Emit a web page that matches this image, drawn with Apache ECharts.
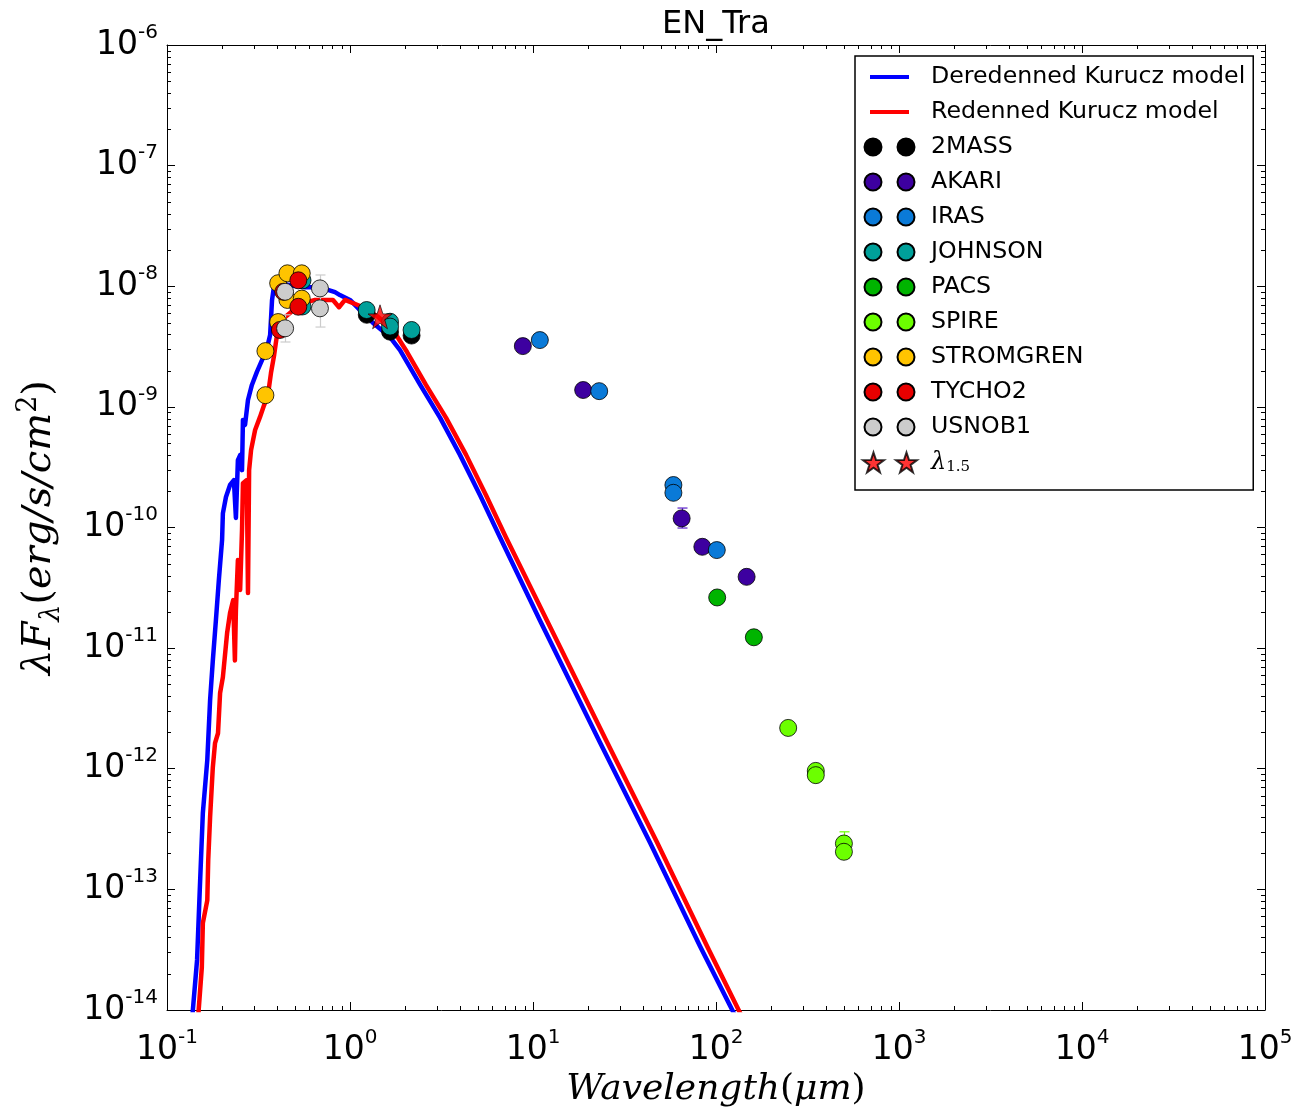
<!DOCTYPE html>
<html><head><meta charset="utf-8">
<script src="https://cdn.jsdelivr.net/npm/echarts@6/dist/echarts.min.js"></script>
<style>html,body{margin:0;padding:0;background:#fff}#c{width:1307px;height:1108px}</style>
</head><body><div id="c"></div>
<script>
// ---- tick definitions ----
const X_TICKS = [0.1, 1, 10, 100, 1000, 10000, 100000];
const Y_TICKS = [1e-14, 1e-13, 1e-12, 1e-11, 1e-10, 1e-9, 1e-8, 1e-7, 1e-6];
const MINOR_STEPS = [2, 3, 4, 5, 6, 7, 8, 9];

// ---- model curves [wavelength um, lambda F_lambda] ----
const DEREDDENED = [
  [0.137, 8.3e-15], [0.146, 2.6e-14], [0.151, 9.8e-14], [0.157, 4.3e-13], [0.166, 1.18e-12],
  [0.172, 3.7e-12], [0.178, 7.9e-12], [0.185, 1.7e-11], [0.192, 3.66e-11], [0.200, 7.9e-11],
  [0.202, 1.31e-10], [0.210, 1.79e-10], [0.221, 2.25e-10], [0.232, 2.47e-10], [0.238, 1.2e-10],
  [0.244, 3.62e-10], [0.251, 3.98e-10], [0.257, 2.99e-10], [0.260, 7.8e-10], [0.267, 7.1e-10],
  [0.277, 1.14e-9], [0.291, 1.52e-9], [0.310, 1.95e-9], [0.331, 2.45e-9], [0.352, 3.07e-9],
  [0.366, 3.94e-9], [0.375, 7.7e-9], [0.385, 1.02e-8], [0.414, 1.06e-8], [0.470, 1.02e-8],
  [0.568, 9.8e-9], [0.686, 9.8e-9], [0.828, 8.95e-9], [0.881, 8.45e-9], [1.0, 7.7e-9],
  [1.135, 6.35e-9], [1.337, 4.96e-9], [1.655, 3.79e-9], [1.876, 2.96e-9], [2.42, 1.52e-9],
  [3.11, 8.1e-10], [3.99, 4.0e-10], [5.13, 1.86e-10], [6.6, 8.3e-11], [10.9, 1.7e-11],
  [23.2, 1.66e-12], [43.5, 2.46e-13], [81.8, 3.38e-14], [135, 7.5e-15]
];
const REDDENED = [
  [0.1476, 8.3e-15], [0.155, 2.26e-14], [0.157, 5.25e-14], [0.166, 8.1e-14], [0.168, 1.75e-13],
  [0.172, 3.97e-13], [0.178, 1.03e-12], [0.183, 1.63e-12], [0.190, 1.97e-12], [0.195, 4.24e-12],
  [0.202, 5.75e-12], [0.213, 1.33e-11], [0.221, 1.95e-11], [0.230, 2.5e-11], [0.235, 7.9e-12],
  [0.238, 2.07e-11], [0.244, 5.37e-11], [0.251, 3.03e-11], [0.257, 9.5e-11], [0.260, 2.33e-10],
  [0.273, 2.47e-10], [0.277, 2.86e-11], [0.281, 2.99e-10], [0.288, 4.38e-10], [0.303, 6.43e-10],
  [0.322, 8.22e-10], [0.339, 1.03e-9], [0.356, 1.25e-9], [0.370, 1.91e-9], [0.385, 2.69e-9],
  [0.399, 3.94e-9], [0.414, 4.59e-9], [0.436, 5.45e-9], [0.470, 6.0e-9], [0.533, 7.1e-9],
  [0.644, 7.7e-9], [0.807, 7.7e-9], [0.871, 6.7e-9], [0.939, 7.7e-9], [1.135, 6.86e-9],
  [1.406, 5.66e-9], [1.718, 4.34e-9], [2.05, 2.85e-9], [2.60, 1.52e-9], [3.35, 8.1e-10],
  [4.31, 4.0e-10], [5.53, 1.86e-10], [7.11, 8.3e-11], [11.9, 1.7e-11], [25.4, 1.66e-12],
  [47.6, 2.46e-13], [89.4, 3.38e-14], [146, 7.5e-15]
];

// ---- photometry [wavelength um, lambda F_lambda] ----
const TWOMASS = [[1.235, 5.8e-9], [1.655, 4.2e-9], [2.17, 3.9e-9]];
const AKARI = [[8.8, 3.19e-9], [18.8, 1.38e-9], [64.9, 1.19e-10], [84.2, 6.92e-11], [147, 3.9e-11]];
const IRAS = [[10.9, 3.58e-9], [23.0, 1.35e-9], [58.5, 2.25e-10], [58.5, 1.94e-10], [101, 6.5e-11]];
const JOHNSON = [[0.55, 1.12e-8], [0.55, 6.8e-9], [1.233, 6.35e-9], [1.655, 5.08e-9], [1.655, 4.63e-9], [2.17, 4.34e-9]];
const PACS = [[101.5, 2.63e-11], [161, 1.23e-11]];
const SPIRE = [[248, 2.18e-12], [351, 9.6e-13], [351, 8.85e-13], [500, 2.4e-13], [500, 2.05e-13]];
const STROMGREN = [[0.345, 2.9e-9], [0.345, 1.25e-9], [0.405, 1.06e-8], [0.405, 5.05e-9],
                   [0.455, 1.28e-8], [0.455, 7.7e-9], [0.545, 1.28e-8], [0.545, 7.9e-9]];
const TYCHO2 = [[0.432, 9.0e-9], [0.414, 4.34e-9], [0.522, 1.12e-8], [0.522, 6.76e-9]];
const USNOB1 = [[0.442, 9.0e-9], [0.442, 4.48e-9], [0.685, 9.6e-9], [0.685, 6.56e-9]];
const LAMBDA15 = [[1.459, 5.58e-9]];

// ---- error bars [wavelength, low, high] ----
const ERR_USNOB1 = [[0.685, 4.59e-9, 1.24e-8], [0.442, 3.45e-9, 5.8e-9]];
const ERR_AKARI = [[64.9, 9.9e-11, 1.45e-10]];
const ERR_SPIRE = [[500, 1.8e-13, 3.0e-13]];

// ---- styling ----
const COLORS = {
  '2MASS': '#000000', 'AKARI': '#3d00a0', 'IRAS': '#0a7ad8', 'JOHNSON': '#00a09a',
  'PACS': '#00b400', 'SPIRE': '#6cff00', 'STROMGREN': '#ffc400', 'TYCHO2': '#e80000', 'USNOB1': '#cccccc'
};
const SANS = 'DejaVu Sans';
const SERIF = 'DejaVu Serif';
const STAR_NAME = 'λ1.5';

function starPath(cx, cy, R, r) {
  let d = '';
  for (let i = 0; i < 10; i++) {
    const a = (-90 + 36 * i) * Math.PI / 180;
    const rad = i % 2 ? r : R;
    d += (i ? 'L' : 'M') + (cx + rad * Math.cos(a)).toFixed(2) + ',' + (cy + rad * Math.sin(a)).toFixed(2);
  }
  return d + 'Z';
}
function circ(cx, cy, r) {
  return 'M' + (cx - r) + ',' + cy + 'a' + r + ',' + r + ' 0 1,0 ' + (2 * r) + ',0a' + r + ',' + r + ' 0 1,0 ' + (-2 * r) + ',0Z';
}
const CORNERS = 'M-3,0M53,22';
const ICON_LINE = 'path://' + CORNERS + 'M5.5,9h39v4h-39Z';
const ICON_DOTS = 'path://' + CORNERS + circ(8.5, 11, 8.5) + circ(41.5, 11, 8.5);
const ICON_STARS = 'path://' + CORNERS + starPath(9, 11.5, 11, 4.3) + starPath(42, 11.5, 11, 4.3);
const STAR_SYMBOL = 'path://' + starPath(0, 0, 11, 4.3);

function expLabel(v) {
  const e = Math.round(Math.log10(v));
  return '{b|10}{s|' + e + '}';
}
const tickRich = {
  b: { fontFamily: SANS, fontSize: 33, lineHeight: 33, color: '#000', verticalAlign: 'bottom' },
  s: { fontFamily: SANS, fontSize: 20, lineHeight: 20, color: '#000', verticalAlign: 'bottom', padding: [0, 0, 19, 0] }
};

function logAxis(pos, show) {
  const isX = pos === 'bottom' || pos === 'top';
  return {
    type: 'log', logBase: 10, position: pos,
    min: isX ? X_TICKS[0] : Y_TICKS[0],
    max: isX ? X_TICKS[X_TICKS.length - 1] : Y_TICKS[Y_TICKS.length - 1],
    splitNumber: isX ? X_TICKS.length - 1 : Y_TICKS.length - 1,
    axisLine: { show: true, onZero: false, lineStyle: { color: '#000', width: 1 } },
    axisTick: { show: true, inside: true, length: 8, lineStyle: { color: '#000', width: 1 } },
    minorTick: { show: false },
    splitLine: { show: false },
    axisLabel: show ? {
      show: true, margin: isX ? 24 : 9, formatter: expLabel, rich: tickRich,
      showMinLabel: true, showMaxLabel: true, hideOverlap: false
    } : { show: false }
  };
}

const xMain = logAxis('bottom', true);
xMain.name = '{i|Wavelength}{r|(}{i|μm}{r|)}';
xMain.nameLocation = 'middle';
xMain.nameGap = 56;
xMain.nameTextStyle = {
  rich: {
    i: { fontFamily: SERIF, fontStyle: 'italic', fontSize: 36, lineHeight: 44, color: '#000' },
    r: { fontFamily: SERIF, fontSize: 36, lineHeight: 44, color: '#000' }
  }
};
const yMain = logAxis('left', true);
yMain.name = '{i|λF}{sb|λ}{r|(}{i|erg/s/cm}{sp|2}{r|)}';
yMain.nameLocation = 'middle';
yMain.nameRotate = 90;
yMain.nameGap = 102;
yMain.nameTextStyle = {
  rich: {
    i: { fontFamily: SERIF, fontStyle: 'italic', fontSize: 40, lineHeight: 50, color: '#000', verticalAlign: 'middle' },
    r: { fontFamily: SERIF, fontSize: 40, lineHeight: 50, color: '#000', verticalAlign: 'middle' },
    sb: { fontFamily: SERIF, fontStyle: 'italic', fontSize: 27, lineHeight: 27, color: '#000', verticalAlign: 'bottom' },
    sp: { fontFamily: SERIF, fontSize: 27, lineHeight: 27, color: '#000', verticalAlign: 'top' }
  }
};

// minor tick values (axis decoration)
const X_MINOR = [], Y_MINOR = [];
for (let i = 0; i < X_TICKS.length - 1; i++) MINOR_STEPS.forEach(m => X_MINOR.push([X_TICKS[i] * m, 1e-10]));
for (let i = 0; i < Y_TICKS.length - 1; i++) MINOR_STEPS.forEach(m => Y_MINOR.push([1, Y_TICKS[i] * m]));

function scatter(name, data, extra) {
  return Object.assign({
    name, type: 'scatter', data, symbol: 'circle', symbolSize: 17, z: 3,
    itemStyle: { color: COLORS[name], borderColor: '#000', borderWidth: 0.8, opacity: 1 },
    emphasis: { disabled: true }
  }, extra || {});
}
function errSeries(data, color) {
  return {
    type: 'custom', data, z: 2, silent: true,
    encode: { x: 0, y: [1, 2] },
    renderItem: (params, api) => {
      const x = api.value(0);
      const p1 = api.coord([x, api.value(1)]);
      const p2 = api.coord([x, api.value(2)]);
      const px = Math.round(p1[0]) + 0.5;
      return { type: 'group', children: [
        { type: 'line', shape: { x1: px, y1: p1[1], x2: px, y2: p2[1] }, style: { stroke: color, lineWidth: 1.2 } },
        { type: 'line', shape: { x1: px - 5, y1: p1[1], x2: px + 5, y2: p1[1] }, style: { stroke: color, lineWidth: 1.2 } },
        { type: 'line', shape: { x1: px - 5, y1: p2[1], x2: px + 5, y2: p2[1] }, style: { stroke: color, lineWidth: 1.2 } }
      ] };
    }
  };
}
const minorY = {
  type: 'custom', data: Y_MINOR, z: 5, silent: true,
  renderItem: (params, api) => {
    const cs = params.coordSys;
    const y = Math.round(api.coord([1, api.value(1)])[1]) + 0.5;
    return { type: 'group', children: [
      { type: 'line', shape: { x1: cs.x, y1: y, x2: cs.x + 4, y2: y }, style: { stroke: '#000', lineWidth: 1 } },
      { type: 'line', shape: { x1: cs.x + cs.width, y1: y, x2: cs.x + cs.width - 4, y2: y }, style: { stroke: '#000', lineWidth: 1 } }
    ] };
  }
};
const minorX = {
  type: 'custom', data: X_MINOR, z: 5, silent: true,
  renderItem: (params, api) => {
    const cs = params.coordSys;
    const x = Math.round(api.coord([api.value(0), 1e-10])[0]) + 0.5;
    return { type: 'group', children: [
      { type: 'line', shape: { x1: x, y1: cs.y + cs.height, x2: x, y2: cs.y + cs.height - 4 }, style: { stroke: '#000', lineWidth: 1 } },
      { type: 'line', shape: { x1: x, y1: cs.y, x2: x, y2: cs.y + 4 }, style: { stroke: '#000', lineWidth: 1 } }
    ] };
  }
};

const SURVEYS = [['2MASS', TWOMASS], ['AKARI', AKARI], ['IRAS', IRAS], ['JOHNSON', JOHNSON], ['PACS', PACS],
                 ['SPIRE', SPIRE], ['STROMGREN', STROMGREN], ['TYCHO2', TYCHO2], ['USNOB1', USNOB1]];

const legendData = [
  { name: 'Deredenned Kurucz model', icon: ICON_LINE, itemStyle: { borderWidth: 0 } },
  { name: 'Redenned Kurucz model', icon: ICON_LINE, itemStyle: { borderWidth: 0 } }
].concat(SURVEYS.map(s => ({ name: s[0], icon: ICON_DOTS })))
 .concat([{ name: STAR_NAME, icon: ICON_STARS }]);

const option = {
  animation: false,
  backgroundColor: '#fff',
  title: {
    text: 'EN_Tra', left: 711, top: 4, textAlign: 'center',
    textStyle: { fontFamily: SANS, fontSize: 32, fontWeight: 'normal', color: '#000' }
  },
  grid: { left: 167, top: 45, width: 1098, height: 965, containLabel: false, outerBoundsMode: 'none' },
  xAxis: [xMain, logAxis('top', false)],
  yAxis: [yMain, logAxis('right', false)],
  legend: {
    orient: 'vertical', left: 855, top: 56, selectedMode: false,
    backgroundColor: '#fff', borderColor: '#000', borderWidth: 1.5, borderRadius: 0,
    padding: [9, 8, 15, 5.5], itemGap: 11, itemWidth: 56, itemHeight: 22,
    data: legendData,
    formatter: name => name === STAR_NAME ? '{l|λ}{sb|1.5}' : name,
    textStyle: {
      fontFamily: SANS, fontSize: 23.7, lineHeight: 24, color: '#000', padding: [0, 0, 0, 8.5],
      rich: {
        l: { fontFamily: SERIF, fontStyle: 'italic', fontSize: 24, lineHeight: 24, color: '#000', verticalAlign: 'top' },
        sb: { fontFamily: SERIF, fontSize: 15, lineHeight: 15, color: '#000', verticalAlign: 'bottom', padding: [10, 0, 0, 0] }
      }
    }
  },
  series: [
    { name: 'Deredenned Kurucz model', type: 'line', data: DEREDDENED, symbol: 'none', showSymbol: false, z: 1,
      clip: true, color: '#0000ff', itemStyle: { color: '#0000ff' },
      lineStyle: { color: '#0000ff', width: 4.5, join: 'round' }, emphasis: { disabled: true } },
    { name: 'Redenned Kurucz model', type: 'line', data: REDDENED, symbol: 'none', showSymbol: false, z: 1,
      clip: true, color: '#ff0000', itemStyle: { color: '#ff0000' },
      lineStyle: { color: '#ff0000', width: 4.5, join: 'round' }, emphasis: { disabled: true } },
    errSeries(ERR_USNOB1, '#cccccc'),
    errSeries(ERR_AKARI, '#5a20c8'),
    errSeries(ERR_SPIRE, '#6cff00')
  ].concat(SURVEYS.map(s => scatter(s[0], s[1])))
   .concat([{
      name: STAR_NAME, type: 'scatter', data: LAMBDA15, symbol: STAR_SYMBOL, symbolSize: 24, z: 4,
      itemStyle: { color: '#ff0000', borderColor: '#000', borderWidth: 0.8 }, emphasis: { disabled: true }
   }, minorX, minorY])
};

const chart = echarts.init(document.getElementById('c'), null, { renderer: 'canvas' });
chart.setOption(option);
</script>
</body></html>
